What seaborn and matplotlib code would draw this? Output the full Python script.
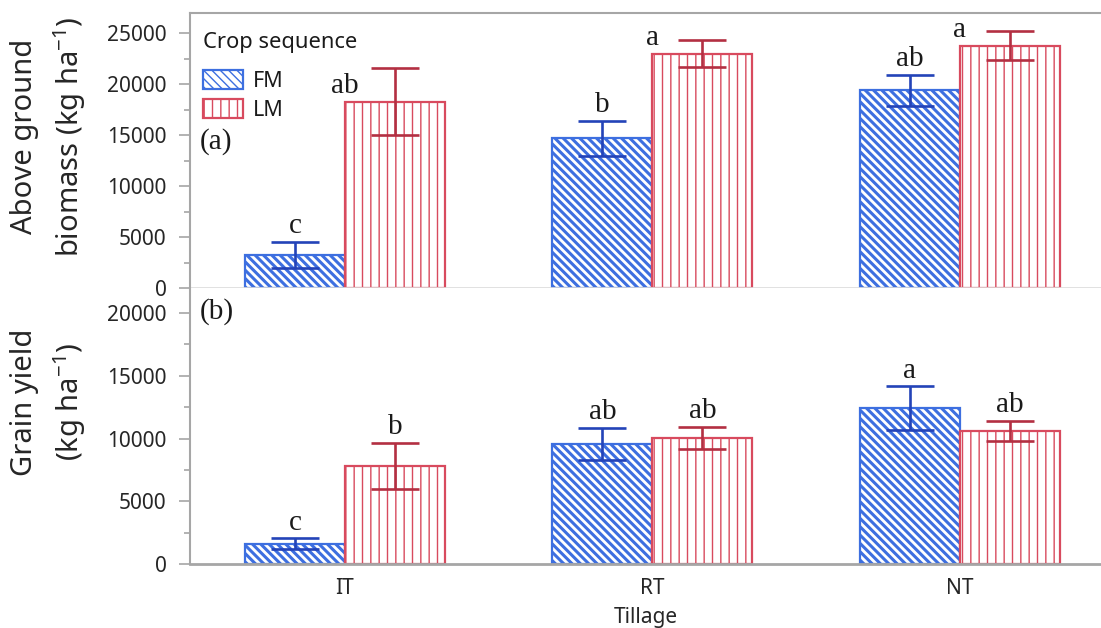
import numpy as np
import pandas as pd
import matplotlib
matplotlib.use("Agg")
import matplotlib.pyplot as plt
from matplotlib.patches import Patch
from matplotlib.ticker import MultipleLocator
import seaborn as sns

# ---- data -------------------------------------------------------------
tillage = ["IT", "RT", "NT"]
sequences = ["FM", "LM"]

biomass_fm = [3250, 14700, 19400]
biomass_lm = [18300, 23000, 23800]
biomass_fm_err = [1270, 1700, 1500]
biomass_lm_err = [3300, 1330, 1430]
biomass_fm_letters = ["c", "b", "ab"]
biomass_lm_letters = ["ab", "a", "a"]

grain_fm = [1600, 9570, 12400]
grain_lm = [7820, 10050, 10600]
grain_fm_err = [440, 1280, 1750]
grain_lm_err = [1830, 880, 800]
grain_fm_letters = ["c", "ab", "a"]
grain_lm_letters = ["b", "ab", "ab"]

# ---- style ------------------------------------------------------------
sns.set_style("ticks")
SANS = "Noto Sans"
SERIF = "Liberation Serif"
plt.rcParams["font.family"] = [SANS, "DejaVu Sans"]
plt.rcParams["mathtext.fontset"] = "custom"
plt.rcParams["mathtext.rm"] = SANS
plt.rcParams["mathtext.it"] = SANS
plt.rcParams["text.color"] = "#1a1a1a"

EDGE = {"FM": "#3d6fe0", "LM": "#d84a5e"}
ERRC = {"FM": "#2343b8", "LM": "#b32f42"}
HATCH = {"FM": "\\\\\\\\", "LM": "||"}
HATCH_LW = {"FM": 2.2, "LM": 1.0}
SPINE = "#a6a6a6"

fig = plt.figure(figsize=(11.01, 6.28), dpi=100)
W, H = 1101, 628
left = 190 / W
ax_top = fig.add_axes([left, 1 - 288 / H, 1 - left, 275 / H])
ax_bot = fig.add_axes([left, 1 - 564 / H, 1 - left, 276 / H])


def frame(df_vals):
    rows = []
    for seq, vals in df_vals.items():
        for t, v in zip(tillage, vals):
            rows.append({"Tillage": t, "Crop sequence": seq, "value": v})
    return pd.DataFrame(rows)


def draw_panel(ax, fm, lm, fm_err, lm_err, fm_lab, lm_lab, ymax):
    df = frame({"FM": fm, "LM": lm})
    sns.barplot(data=df, x="Tillage", y="value", hue="Crop sequence",
                order=tillage, hue_order=sequences, errorbar=None,
                width=0.65, gap=0, palette=[EDGE["FM"], EDGE["LM"]],
                legend=False, ax=ax)
    ax.set_ylim(0, ymax)
    ax.set_xlim(-0.504, 2.459)
    errs = {"FM": fm_err, "LM": lm_err}
    labs = {"FM": fm_lab, "LM": lm_lab}
    means = {"FM": fm, "LM": lm}
    for seq, cont in zip(sequences, ax.containers):
        for i, p in enumerate(cont.patches):
            p.set_facecolor("white")
            p.set_edgecolor(EDGE[seq])
            p.set_linewidth(1.6)
            p.set_hatch(HATCH[seq])
            if hasattr(p, "set_hatch_linewidth"):
                p.set_hatch_linewidth(HATCH_LW[seq])
            xc = p.get_x() + p.get_width() / 2
            m = means[seq][i]
            e = errs[seq][i]
            ax.errorbar(xc, m, yerr=e, fmt="none", ecolor=ERRC[seq],
                        elinewidth=1.9, capsize=17, capthick=1.9, zorder=4)
            top = m + e
            if top < 0.78 * ymax:
                ax.annotate(labs[seq][i], xy=(xc, top), xytext=(0, 2),
                            textcoords="offset points", ha="center",
                            va="bottom", family=SERIF, fontsize=21)
            else:
                # no room above the whisker: put the letter beside it
                ax.annotate(labs[seq][i], xy=(p.get_x(), m), xytext=(0, 6),
                            textcoords="offset points", ha="center",
                            va="baseline", family=SERIF, fontsize=21)

    ax.yaxis.set_major_locator(MultipleLocator(5000))
    ax.yaxis.set_minor_locator(MultipleLocator(2500))
    ax.tick_params(axis="y", which="major", length=8, width=1.2,
                   color=SPINE, labelsize=15, pad=9)
    ax.tick_params(axis="y", which="minor", length=4.5, width=1.2,
                   color=SPINE)
    ax.tick_params(axis="x", length=0, labelsize=15, pad=10)
    ax.spines["right"].set_visible(False)
    ax.spines["left"].set_color(SPINE)
    ax.spines["left"].set_linewidth(1.5)
    ax.set_xlabel("")


draw_panel(ax_top, biomass_fm, biomass_lm, biomass_fm_err, biomass_lm_err,
           biomass_fm_letters, biomass_lm_letters, 27000)
draw_panel(ax_bot, grain_fm, grain_lm, grain_fm_err, grain_lm_err,
           grain_fm_letters, grain_lm_letters, 22000)

# top panel frame
ax_top.spines["top"].set_color(SPINE)
ax_top.spines["top"].set_linewidth(1.5)
ax_top.spines["bottom"].set_color("#dcdcdc")
ax_top.spines["bottom"].set_linewidth(1.2)
ax_top.set_xticks([])
# bottom panel frame
ax_bot.spines["top"].set_visible(False)
ax_bot.spines["bottom"].set_color(SPINE)
ax_bot.spines["bottom"].set_linewidth(2)
ax_bot.set_xlabel("Tillage", fontsize=15, labelpad=5.5)

ax_top.set_ylabel("Above ground\nbiomass (kg ha$\\mathregular{^{-1}}$)",
                  fontsize=21, linespacing=1.45)
ax_top.yaxis.set_label_coords(-0.112, 0.55)
ax_bot.set_ylabel("Grain yield\n(kg ha$\\mathregular{^{-1}}$)",
                  fontsize=21, linespacing=1.45)
ax_bot.yaxis.set_label_coords(-0.112, 0.587)

ax_top.text(0.011, 0.531, "(a)", transform=ax_top.transAxes, family=SERIF,
            fontsize=21, va="center", ha="left")
ax_bot.text(0.011, 0.913, "(b)", transform=ax_bot.transAxes, family=SERIF,
            fontsize=21, va="center", ha="left")

# legend: title drawn as its own line above the entries
ax_top.text(0.0143, 0.8945, "Crop sequence", transform=ax_top.transAxes,
            fontsize=15.8, va="center", ha="left")
handles = []
for seq in sequences:
    h = Patch(facecolor="white", edgecolor=EDGE[seq], hatch=HATCH[seq],
              linewidth=1.6, label=seq)
    if hasattr(h, "set_hatch_linewidth"):
        h.set_hatch_linewidth(HATCH_LW[seq])
    handles.append(h)
leg = ax_top.legend(handles=handles, loc="upper left",
                    bbox_to_anchor=(0.0143, 0.793), frameon=False,
                    borderaxespad=0, borderpad=0, fontsize=15.5,
                    handlelength=1.86, handleheight=0.97, labelspacing=0.36,
                    handletextpad=0.45)

fig.savefig("out.png", dpi=100)
